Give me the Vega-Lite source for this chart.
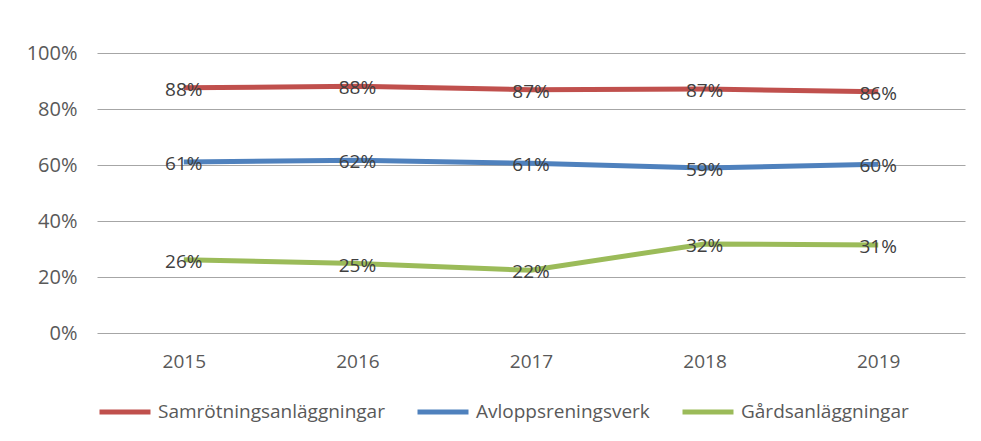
{
  "$schema": "https://vega.github.io/schema/vega-lite/v6.json",
  "width": 868,
  "height": 280,
  "autosize": {"type": "none"},
  "padding": {"left": 97, "top": 53, "right": 16, "bottom": 108},
  "background": "white",
  "config": {
    "view": {"stroke": null},
    "font": "Open Sans",
    "axis": {"labelFont": "Open Sans", "labelFontSize": 19, "labelColor": "#595959"},
    "legend": {"labelFont": "Open Sans", "labelFontSize": 19, "labelColor": "#595959", "labelLimit": 0}
  },
  "data": {
    "values": [
      {"year": "2015", "serie": "Samrötningsanläggningar", "value": 0.876},
      {"year": "2016", "serie": "Samrötningsanläggningar", "value": 0.881},
      {"year": "2017", "serie": "Samrötningsanläggningar", "value": 0.869},
      {"year": "2018", "serie": "Samrötningsanläggningar", "value": 0.871},
      {"year": "2019", "serie": "Samrötningsanläggningar", "value": 0.862},
      {"year": "2015", "serie": "Avloppsreningsverk", "value": 0.611},
      {"year": "2016", "serie": "Avloppsreningsverk", "value": 0.617},
      {"year": "2017", "serie": "Avloppsreningsverk", "value": 0.606},
      {"year": "2018", "serie": "Avloppsreningsverk", "value": 0.589},
      {"year": "2019", "serie": "Avloppsreningsverk", "value": 0.603},
      {"year": "2015", "serie": "Gårdsanläggningar", "value": 0.262},
      {"year": "2016", "serie": "Gårdsanläggningar", "value": 0.248},
      {"year": "2017", "serie": "Gårdsanläggningar", "value": 0.224},
      {"year": "2018", "serie": "Gårdsanläggningar", "value": 0.318},
      {"year": "2019", "serie": "Gårdsanläggningar", "value": 0.314}
    ]
  },
  "encoding": {
    "x": {
      "field": "year", "type": "ordinal",
      "scale": {"type": "point", "padding": 0.5},
      "axis": {"title": null, "labelAngle": 0, "domain": false, "ticks": false, "grid": false, "labelPadding": 19}
    },
    "y": {
      "field": "value", "type": "quantitative",
      "scale": {"domain": [0, 1]},
      "axis": {"title": null, "format": ".0%", "values": [0, 0.2, 0.4, 0.6, 0.8, 1], "domain": false, "ticks": false, "labelPadding": 20, "labelFontSize": 20, "gridColor": "#a6a6a6", "gridWidth": 1.2}
    }
  },
  "layer": [
    {
      "mark": {"type": "line", "strokeWidth": 5},
      "encoding": {
        "color": {
          "field": "serie", "type": "nominal",
          "scale": {
            "domain": ["Samrötningsanläggningar", "Avloppsreningsverk", "Gårdsanläggningar"],
            "range": ["#C0504D", "#4F81BD", "#9BBB59"]
          },
          "legend": {
            "title": null, "orient": "none", "direction": "horizontal",
            "legendX": 0, "legendY": 331,
            "symbolType": "stroke", "symbolSize": 2600, "symbolStrokeWidth": 5,
            "labelOffset": 5, "columnPadding": 22
          }
        }
      }
    },
    {
      "mark": {"type": "text", "fontSize": 19, "color": "#404040", "baseline": "middle", "dy": 2},
      "encoding": {
        "text": {"field": "value", "type": "quantitative", "format": ".0%"}
      }
    }
  ]
}
